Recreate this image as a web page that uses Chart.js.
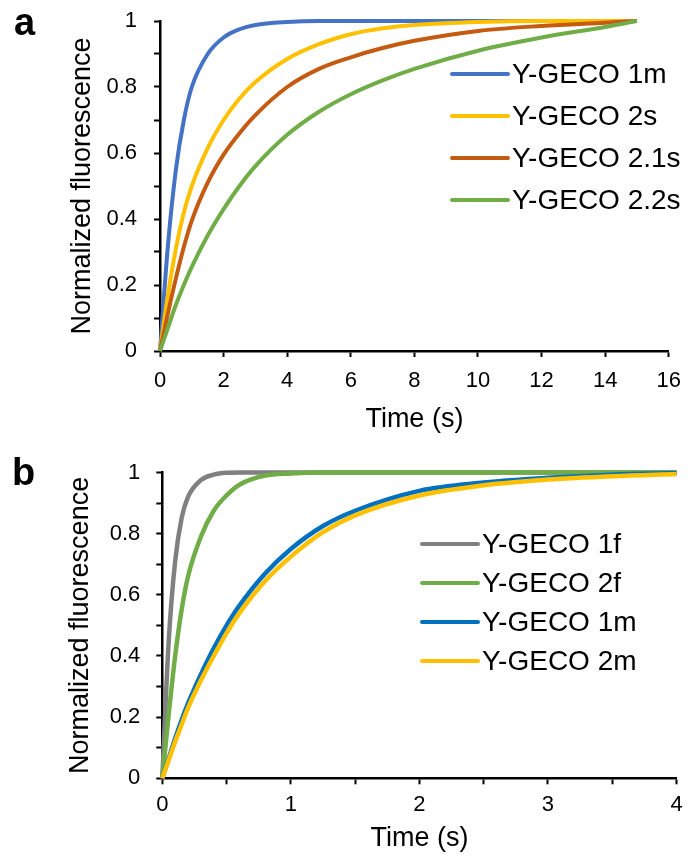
<!DOCTYPE html>
<html>
<head>
<meta charset="utf-8">
<title>Y-GECO fluorescence kinetics</title>
<script src="https://cdn.jsdelivr.net/npm/chart.js@4.4.1/dist/chart.umd.min.js"></script>
<style>
    body { margin: 0; background: #fff; }
    .wrap { position: relative; width: 692px; height: 858px; }
    canvas { position: absolute; left: 0; }
    #chartA { top: 0; }
    #chartB { top: 440px; }
    .panel-letter {
        position: absolute;
        font: bold 38px 'Liberation Sans', Arial, sans-serif;
        line-height: 38px;
        color: #000;
    }
</style>
</head>
<body>
<div class="wrap">
    <canvas id="chartA" width="692" height="440"></canvas>
    <canvas id="chartB" width="692" height="418"></canvas>
    <div class="panel-letter" style="left:14px; top:3px;">a</div>
    <div class="panel-letter" style="left:12px; top:453px;">b</div>
</div>
<script>
// Panel a - time (s) and normalized fluorescence
var timeA = [0, 0.25, 0.5, 0.75, 1, 1.5, 2, 2.5, 3, 4, 5, 6, 7, 8, 10, 12, 14, 15];
var geco1mA = [0, 0.32, 0.55, 0.70, 0.80, 0.90, 0.95, 0.975, 0.988, 0.997, 1, 1, 1, 1, 1, 1, 1, 1];
var geco2sA = [0, 0.17, 0.31, 0.42, 0.50, 0.615, 0.70, 0.765, 0.815, 0.885, 0.93, 0.96, 0.978, 0.988, 0.997, 1, 1, 1];
var geco21sA = [0, 0.115, 0.22, 0.315, 0.395, 0.51, 0.595, 0.66, 0.715, 0.80, 0.855, 0.89, 0.918, 0.94, 0.97, 0.985, 0.995, 1];
var geco22sA = [0, 0.07, 0.14, 0.20, 0.255, 0.35, 0.43, 0.50, 0.56, 0.655, 0.725, 0.778, 0.82, 0.855, 0.91, 0.95, 0.982, 1];
var labelsA = ['Y-GECO 1m', 'Y-GECO 2s', 'Y-GECO 2.1s', 'Y-GECO 2.2s'];

// Panel b
var timeB = [0, 0.05, 0.1, 0.15, 0.2, 0.3, 0.4, 0.5, 0.6, 0.8, 1, 1.25, 1.5, 2, 2.5, 3, 3.5, 4];
var geco1fB = [0, 0.45, 0.71, 0.85, 0.92, 0.975, 0.993, 0.999, 1, 1, 1, 1, 1, 1, 1, 1, 1, 1];
var geco2fB = [0, 0.21, 0.40, 0.55, 0.66, 0.79, 0.875, 0.925, 0.96, 0.99, 0.997, 1, 1, 1, 1, 1, 1, 1];
var geco1mB = [0, 0.065, 0.13, 0.19, 0.245, 0.34, 0.425, 0.50, 0.565, 0.67, 0.75, 0.825, 0.875, 0.94, 0.967, 0.983, 0.993, 0.998];
var geco2mB = [0, 0.06, 0.12, 0.175, 0.23, 0.32, 0.40, 0.475, 0.54, 0.645, 0.725, 0.805, 0.86, 0.925, 0.958, 0.977, 0.988, 0.995];
var labelsB = ['Y-GECO 1f', 'Y-GECO 2f', 'Y-GECO 1m', 'Y-GECO 2m'];

// Tick labels
var yTickLabels = ['0', '0.2', '0.4', '0.6', '0.8', '1'];
var xTickLabelsA = ['0', '2', '4', '6', '8', '10', '12', '14', '16'];
var xTickLabelsB = ['0', '1', '2', '3', '4'];

Chart.defaults.font.family = "'Liberation Sans', Arial, sans-serif";
Chart.defaults.color = '#000';

function toPoints(times, values) {
    return times.map(function(t, i) {
        return { x: t, y: values[i] };
    });
}

function makeDataset(label, times, values, color, width, index, count) {
    return {
        label: label,
        data: toPoints(times, values),
        borderColor: color,
        backgroundColor: color,
        borderWidth: width,
        pointRadius: 0,
        fill: false,
        cubicInterpolationMode: 'monotone',
        clip: false,
        order: count - index
    };
}

// legend drawn inside the plot area
var insideLegend = {
    id: 'insideLegend',
    afterDatasetsDraw: function(chart, args, opts) {
        var ctx = chart.ctx;
        ctx.save();
        ctx.font = opts.font;
        ctx.textBaseline = 'middle';
        ctx.lineCap = 'round';
        chart.data.datasets.forEach(function(ds, i) {
            var y = opts.top + i * opts.rowGap;
            ctx.strokeStyle = ds.borderColor;
            ctx.lineWidth = opts.lineWidth;
            ctx.beginPath();
            ctx.moveTo(opts.left, y);
            ctx.lineTo(opts.left + opts.lineLength, y);
            ctx.stroke();
            ctx.fillStyle = '#000';
            ctx.fillText(ds.label, opts.left + opts.lineLength + opts.gap, y + 1);
        });
        ctx.restore();
    }
};

function yAxis(width, tickPad, titlePad) {
    return {
        type: 'linear',
        min: 0,
        max: 1,
        afterFit: function(scale) {
            scale.width = width;
            // keep the layout padding in charge of the plot top
            scale.paddingTop = 0;
            scale.paddingBottom = 0;
        },
        ticks: {
            stepSize: 0.1,
            padding: tickPad,
            font: { size: 22 },
            callback: function(value) {
                var k = Math.round(value * 10);
                return k % 2 === 0 ? yTickLabels[k / 2] : '';
            }
        },
        grid: { display: true, drawOnChartArea: false, drawTicks: true, tickLength: 6, tickWidth: 2, tickColor: '#000', color: '#000' },
        border: { display: true, color: '#000', width: 2.5 },
        title: { display: true, text: 'Normalized fluorescence', font: { size: 27 }, padding: { top: titlePad, bottom: 0 } }
    };
}

function xAxis(max, step, height, tickPad, titlePad, tickLabels, labelStep) {
    return {
        type: 'linear',
        min: 0,
        max: max,
        afterFit: function(scale) { scale.height = height; },
        ticks: {
            stepSize: step,
            padding: tickPad,
            maxRotation: 0,
            autoSkip: false,
            font: { size: 22 },
            callback: function(value) {
                var k = Math.round(value / labelStep * 1000) / 1000;
                return Number.isInteger(k) ? tickLabels[k] : '';
            }
        },
        grid: { display: true, drawOnChartArea: false, drawTicks: true, tickLength: 6, tickWidth: 2, tickColor: '#000', color: '#000' },
        border: { display: true, color: '#000', width: 2.5 },
        title: { display: true, text: 'Time (s)', font: { size: 27 }, padding: { top: 0, bottom: titlePad } }
    };
}

// Panel a chart
new Chart(document.getElementById('chartA'), {
    type: 'line',
    data: {
        datasets: [
            makeDataset(labelsA[0], timeA, geco1mA, '#4472C4', 4, 0, 4),
            makeDataset(labelsA[1], timeA, geco2sA, '#FFC000', 4, 1, 4),
            makeDataset(labelsA[2], timeA, geco21sA, '#C55A11', 4, 2, 4),
            makeDataset(labelsA[3], timeA, geco22sA, '#70AD47', 4, 3, 4)
        ]
    },
    options: {
        responsive: false,
        animation: false,
        layout: { padding: { top: 21, right: 15, bottom: 0, left: 0 } },
        scales: {
            x: xAxis(16, 2, 89, 11, 4, xTickLabelsA, 2),
            y: yAxis(160, 17, 66)
        },
        plugins: {
            legend: { display: false },
            tooltip: { enabled: false },
            insideLegend: { left: 452, top: 74, rowGap: 42, lineLength: 56, gap: 4, lineWidth: 4, font: "28px 'Liberation Sans', Arial, sans-serif" }
        }
    },
    plugins: [insideLegend]
});

// Panel b chart
new Chart(document.getElementById('chartB'), {
    type: 'line',
    data: {
        datasets: [
            makeDataset(labelsB[0], timeB, geco1fB, '#808080', 4.5, 0, 4),
            makeDataset(labelsB[1], timeB, geco2fB, '#70AD47', 4.5, 1, 4),
            makeDataset(labelsB[2], timeB, geco1mB, '#0070C0', 4.5, 2, 4),
            makeDataset(labelsB[3], timeB, geco2mB, '#FFC000', 4.5, 3, 4)
        ]
    },
    options: {
        responsive: false,
        animation: false,
        layout: { padding: { top: 32.5, right: 15.5, bottom: 0, left: 0 } },
        scales: {
            x: xAxis(4, 0.5, 79.7, 7, 3, xTickLabelsB, 1),
            y: yAxis(162.3, 16, 64)
        },
        plugins: {
            legend: { display: false },
            tooltip: { enabled: false },
            insideLegend: { left: 422, top: 104, rowGap: 39, lineLength: 56, gap: 4, lineWidth: 4, font: "28px 'Liberation Sans', Arial, sans-serif" }
        }
    },
    plugins: [insideLegend]
});
</script>
</body>
</html>
